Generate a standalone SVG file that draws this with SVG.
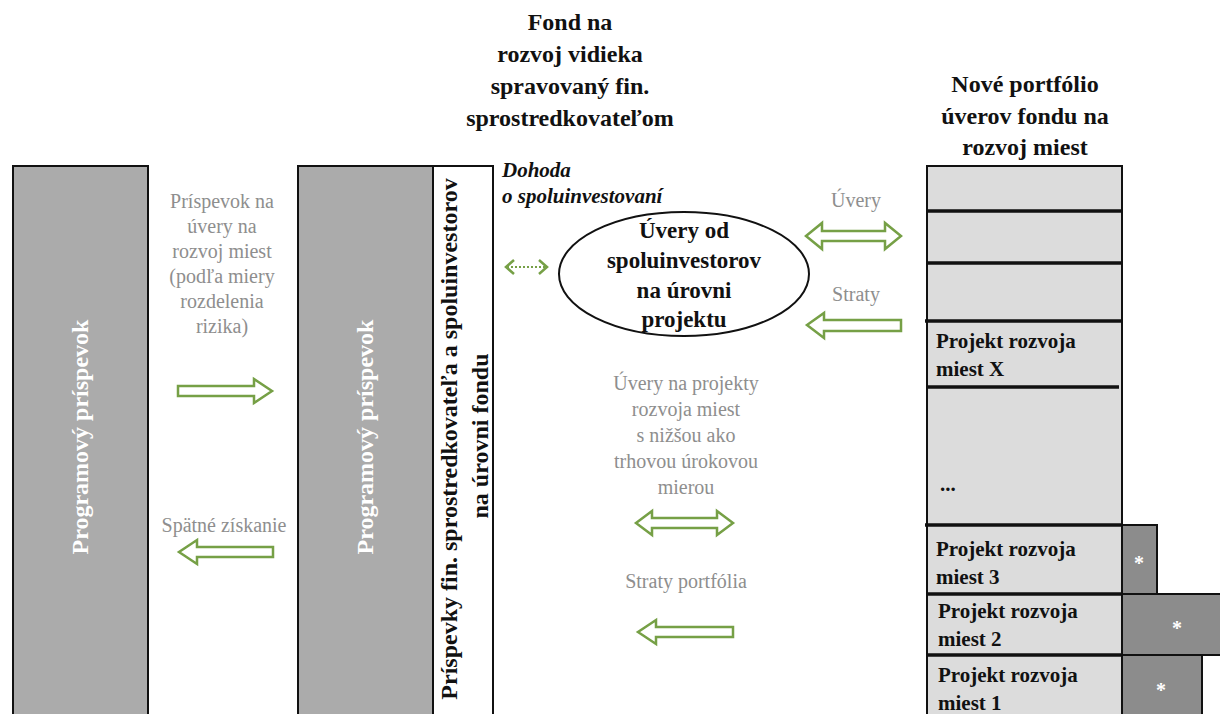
<svg xmlns="http://www.w3.org/2000/svg" width="1220" height="714" viewBox="0 0 1220 714">
<style>
.t{font-family:"Liberation Serif","DejaVu Serif",serif}
.b{font-weight:bold;fill:#111}
.g{fill:#8e8e8e;font-size:20px}
.w{fill:#fff;font-weight:bold;font-size:24px}
.arr{fill:#fff;stroke:#76a046;stroke-width:2.5;stroke-linejoin:miter}
.cell{fill:#dcdcdc;stroke:#111;stroke-width:2}
.sep{stroke:#111;stroke-width:3.5}
.dark{fill:#8c8c8c;stroke:#111;stroke-width:2}
.star{fill:#fff;font-size:20px;font-weight:bold}
</style>
<rect width="1220" height="714" fill="#fff"/>

<g id="title-fund" class="t b" font-size="24" text-anchor="middle">
<text x="570" y="30">Fond na</text>
<text x="570" y="62">rozvoj vidieka</text>
<text x="570" y="94">spravovaný fin.</text>
<text x="570" y="126">sprostredkovateľom</text>
</g>

<g id="title-portfolio" class="t b" font-size="24" text-anchor="middle">
<text x="1025" y="92">Nové portfólio</text>
<text x="1025" y="124">úverov fondu na</text>
<text x="1025" y="155">rozvoj miest</text>
</g>

<g id="col-program">
<rect x="13" y="166" width="135" height="560" fill="#ababab" stroke="#111" stroke-width="2"/>
<text class="t w" transform="translate(88,437) rotate(-90)" text-anchor="middle">Programový príspevok</text>
</g>

<g id="col-fund">
<rect x="298" y="166" width="195" height="560" fill="#fff" stroke="#111" stroke-width="2"/>
<rect x="298" y="166" width="135" height="560" fill="#ababab" stroke="#111" stroke-width="2"/>
<line x1="433" y1="166" x2="433" y2="714" stroke="#111" stroke-width="2" stroke-dasharray="6,3"/>
<text class="t w" transform="translate(373,437) rotate(-90)" text-anchor="middle">Programový príspevok</text>
<text class="t b" font-size="24" transform="translate(457,439) rotate(-90)" text-anchor="middle">Príspevky fin. sprostredkovateľa a spoluinvestorov</text>
<text class="t b" font-size="24" transform="translate(488,436) rotate(-90)" text-anchor="middle">na úrovni fondu</text>
</g>

<g id="label-dohoda" class="t b" font-size="21" font-style="italic">
<text x="502" y="177">Dohoda</text>
<text x="502" y="203">o spoluinvestovaní</text>
</g>

<g id="node-coinvest">
<ellipse cx="684" cy="274" rx="125" ry="62" fill="#fff" stroke="#111" stroke-width="2"/>
<g class="t b" font-size="23" text-anchor="middle">
<text x="684" y="238">Úvery od</text>
<text x="684" y="268">spoluinvestorov</text>
<text x="684" y="298">na úrovni</text>
<text x="684" y="327">projektu</text>
</g>
</g>

<g id="col-portfolio">
<rect class="cell" x="927" y="166" width="195" height="560"/>
<line class="sep" x1="927" y1="211" x2="1122" y2="211"/>
<line class="sep" x1="927" y1="263" x2="1122" y2="263"/>
<line class="sep" x1="925" y1="321" x2="1122" y2="321"/>
<line class="sep" x1="927" y1="387" x2="1119" y2="387"/>
<line class="sep" x1="925" y1="525" x2="1122" y2="525"/>
<line class="sep" x1="927" y1="594" x2="1122" y2="594"/>
<line class="sep" x1="927" y1="655" x2="1122" y2="655"/>
<g class="t b" font-size="21">
<text x="936" y="348">Projekt rozvoja</text>
<text x="936" y="376">miest X</text>
<text x="940" y="491">...</text>
<text x="936" y="556">Projekt rozvoja</text>
<text x="936" y="584">miest 3</text>
<text x="938" y="618">Projekt rozvoja</text>
<text x="938" y="646">miest 2</text>
<text x="938" y="682">Projekt rozvoja</text>
<text x="938" y="710">miest 1</text>
</g>
</g>

<g id="risk-3"><rect class="dark" x="1122" y="525" width="35" height="69"/><text class="t star" x="1139" y="570" text-anchor="middle">*</text></g>
<g id="risk-2"><rect class="dark" x="1122" y="594" width="105" height="61"/><text class="t star" x="1177" y="635" text-anchor="middle">*</text></g>
<g id="risk-1"><rect class="dark" x="1122" y="655" width="80" height="70"/><text class="t star" x="1161" y="697" text-anchor="middle">*</text></g>

<g id="connectors">
<g class="t g" text-anchor="middle">
<text x="222" y="208">Príspevok na</text>
<text x="222" y="233">úvery na</text>
<text x="222" y="258">rozvoj miest</text>
<text x="222" y="283">(podľa miery</text>
<text x="222" y="308">rozdelenia</text>
<text x="222" y="333">rizika)</text>
<text x="224" y="532">Spätné získanie</text>
<text x="856" y="207">Úvery</text>
<text x="856" y="301">Straty</text>
<text x="686" y="390">Úvery na projekty</text>
<text x="686" y="416">rozvoja miest</text>
<text x="686" y="442">s nižšou ako</text>
<text x="686" y="468">trhovou úrokovou</text>
<text x="686" y="494">mierou</text>
<text x="686" y="588">Straty portfólia</text>
</g>
<path class="arr" d="M178,386 L254,386 L254,379 L272,391 L254,403 L254,396 L178,396 Z"/>
<path class="arr" d="M273,547 L197,547 L197,540 L179,552 L197,564 L197,557 L273,557 Z"/>
<g stroke="#76a046" stroke-width="2.5" fill="none">
<line x1="507" y1="267" x2="546" y2="267" stroke-dasharray="2,2" stroke-width="2"/>
<polyline points="514,260 506,267 514,274"/>
<polyline points="539,260 547,267 539,274"/>
</g>
<path class="arr" d="M806,236 L822,223 L822,231 L885,231 L885,223 L901,236 L885,249 L885,241 L822,241 L822,249 Z"/>
<path class="arr" d="M901,320 L824,320 L824,313 L807,325 L824,338 L824,331 L901,331 Z"/>
<path class="arr" d="M636,523 L652,511 L652,518 L717,518 L717,511 L733,523 L717,535 L717,528 L652,528 L652,535 Z"/>
<path class="arr" d="M733,627 L656,627 L656,620 L638,632 L656,644 L656,637 L733,637 Z"/>
</g>
</svg>
